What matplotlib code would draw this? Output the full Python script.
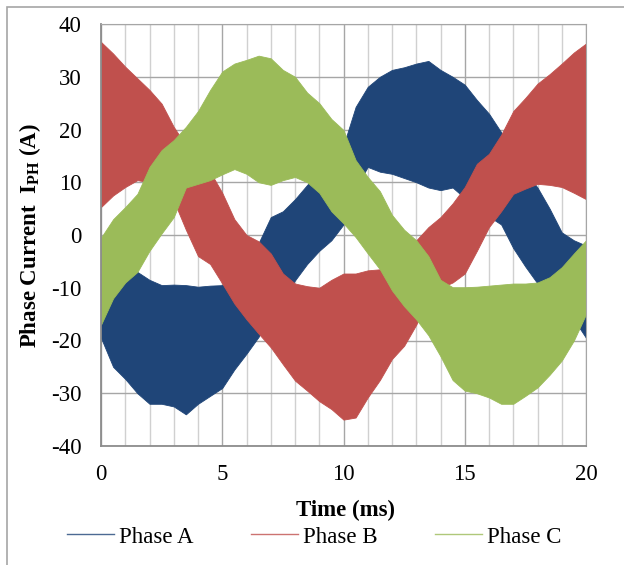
import matplotlib.pyplot as plt
from matplotlib.lines import Line2D
from matplotlib.patches import Rectangle

plt.rcParams['font.family'] = 'Liberation Serif'
plt.rcParams['mathtext.fontset'] = 'custom'
plt.rcParams['mathtext.rm'] = 'Liberation Serif'
plt.rcParams['mathtext.bf'] = 'Liberation Serif:bold'
plt.rcParams['axes.unicode_minus'] = False

time_ms = [0, 0.5, 1, 1.5, 2, 2.5, 3, 3.5, 4, 4.5, 5, 5.5, 6, 6.5, 7, 7.5, 8, 8.5, 9, 9.5,
           10, 10.5, 11, 11.5, 12, 12.5, 13, 13.5, 14, 14.5, 15, 15.5, 16, 16.5, 17, 17.5,
           18, 18.5, 19, 19.5, 20]

# phase A upper / lower envelope (A)
a_hi = [-2, -3, -5, -7, -8.5, -9.5, -9.4, -9.5, -9.8, -9.6, -9.5, -8, -5, -1.5, 3.4, 4.5,
        6.8, 9.5, 12, 14, 17, 24.3, 28.1, 30, 31.3, 31.8, 32.5, 33, 31.3, 30, 28.5, 25.6,
        23, 19.5, 15, 12, 9, 5, 0.5, -1, -2]
a_lo = [-19.5, -25, -27.3, -30, -32, -32, -32.5, -34, -32, -30.5, -29, -25.5, -22.5, -19.3,
        -15, -12, -8.6, -5.5, -3, -1, 2, 9, 12.9, 12, 11.6, 10.8, 10, 9, 8.5, 9, 7, 5, 3.5,
        2, -2.5, -6, -9.2, -11, -13, -16, -19.5]

# phase B
b_hi = [36.6, 34.4, 31.9, 29.7, 27.5, 24.9, 20.5, 17, 14.5, 12, 8, 3, 0, -1.2, -3.5, -7.3,
        -9.2, -9.7, -10, -8.5, -7.3, -7.3, -6.7, -6.5, -6, -4, -1, 1.5, 3.4, 6, 9.1, 13.5,
        15.4, 19, 23.5, 26, 28.7, 30.5, 32.5, 34.6, 36.3]
b_lo = [5.3, 7.5, 9.1, 10.4, 10, 9, 6.5, 1, -4, -5.5, -9.2, -13, -16, -18.7, -21.3, -24.5,
        -27.6, -29.5, -31.5, -33, -35, -34.6, -30.8, -27.5, -23.5, -21, -17, -12, -10, -9,
        -7.3, -3, 1.5, 4.5, 7.8, 8.8, 9.7, 9.5, 9.1, 8, 6.8]

# phase C
c_hi = [-0.5, 3, 5.3, 7.8, 12.9, 16.1, 18, 20.5, 23.5, 27.5, 31, 32.5, 33.2, 34, 33.5, 31.3,
        30, 27, 25, 22, 19.9, 14.2, 11, 8.3, 3.8, 1, -1, -4, -8.5, -9.9, -9.9, -9.8, -9.6,
        -9.4, -9.2, -9.2, -9, -8, -6.1, -3.5, -1]
c_lo = [-17, -12, -9, -7, -3, 0.3, 3.4, 9, 9.7, 10.4, 11.5, 12.5, 11.6, 10, 9.5, 10.4, 11,
        10, 8, 4.5, 2.2, -0.4, -3.5, -6.5, -10.5, -13.5, -16, -19, -23, -27.5, -29.5, -30,
        -30.8, -32, -32, -30.5, -28.9, -26.5, -23.8, -20, -15]

names = ['Phase A', 'Phase B', 'Phase C']
colors = ['#1f4578', '#c0504d', '#9bbb59']
FS = 16.5

fig = plt.figure(figsize=(6.24, 5.65), dpi=100)
W, H = 624, 565

# outer chart border (Excel style)
fig.patches.append(Rectangle((7 / W, -0.05), 1.2, 1 - 7 / H + 0.05, transform=fig.transFigure,
                             fill=False, edgecolor='#a6a6a6', lw=1.2))

ax = fig.add_axes([101 / W, 1 - 446 / H, 485 / W, 422 / H])

bands = [(a_lo, a_hi), (b_lo, b_hi), (c_lo, c_hi)]
for (lo, hi), c in zip(bands, colors):
    ax.fill_between(time_ms, lo, hi, color=c, lw=0.6, edgecolor=c)

ax.set_xlim(0, 20)
ax.set_ylim(-40, 40)
ax.set_xticks([0, 5, 10, 15, 20])
ax.set_xticks(range(21), minor=True)
ax.set_yticks(range(-40, 41, 10))
ax.set_axisbelow(True)
ax.grid(which='minor', axis='x', color='#d0d0d0', lw=1)
ax.grid(which='major', axis='x', color='#a6a6a6', lw=1)
ax.grid(which='major', axis='y', color='#a6a6a6', lw=1)
ax.tick_params(which='both', length=0, labelsize=FS)
ax.tick_params(axis='y', pad=14)
ax.tick_params(axis='x', pad=13)
for s in ax.spines.values():
    s.set_color('#a6a6a6')
ax.spines['left'].set_color('#8c8c8c')
ax.spines['bottom'].set_color('#8c8c8c')
ax.spines['left'].set_linewidth(1.3)
ax.spines['bottom'].set_linewidth(1.3)

fig.text(30 / W, 1 - 236 / H, r'Phase Current  I$_{\mathbf{PH}}$ (A)', rotation=90,
         ha='center', va='center', fontsize=FS, fontweight='bold')
fig.text(345 / W, 1 - 510 / H, 'Time (ms)', ha='center', va='center',
         fontsize=FS, fontweight='bold')

# legend handles are thin, slightly washed-out lines in the original
handles = [Line2D([], [], color=c, lw=1.0, alpha=0.8) for c in colors]
fig.legend(handles, names, loc='center', bbox_to_anchor=(314 / W, 1 - 537 / H), ncol=3,
           frameon=False, fontsize=FS, handlelength=2.05, handletextpad=0.22,
           columnspacing=2.5, borderpad=0, borderaxespad=0)

fig.savefig('out.png', dpi=100)
